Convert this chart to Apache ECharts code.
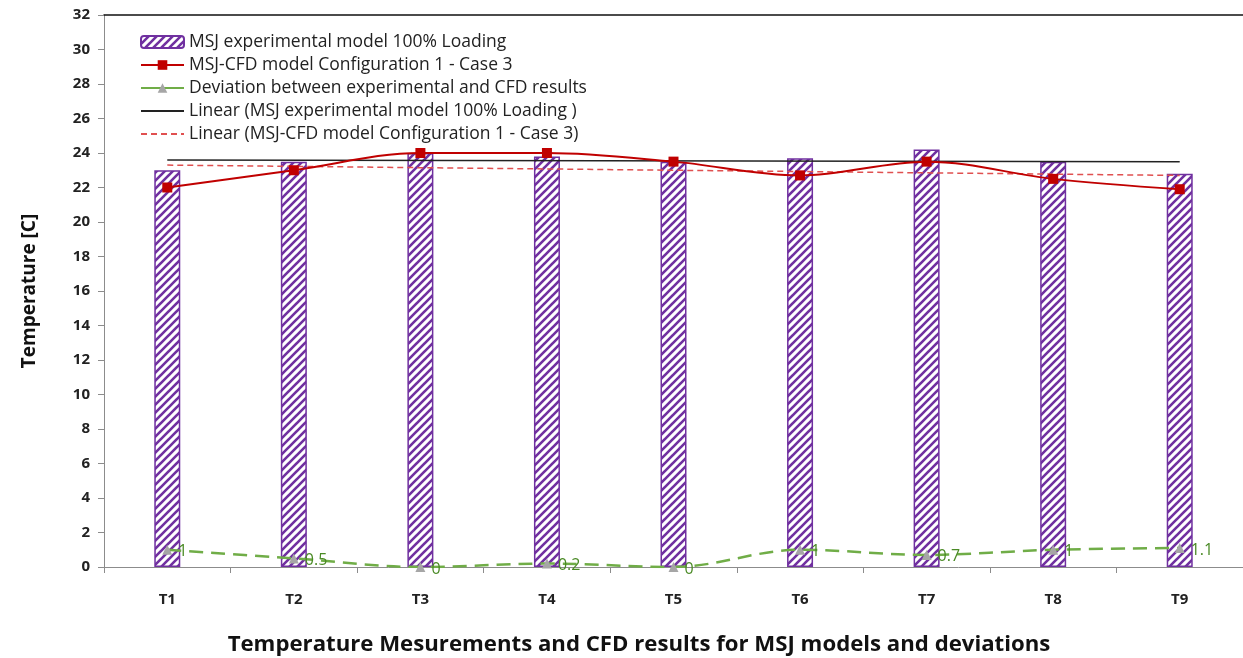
<!DOCTYPE html>
<html>
<head>
<meta charset="utf-8">
<script src="https://cdn.jsdelivr.net/npm/echarts@6/dist/echarts.min.js"></script>
<style>
  html, body { margin: 0; padding: 0; background: #ffffff; }
  #chart { width: 1243px; height: 658px; }
</style>
</head>
<body>
<div id="chart"></div>
<script>
// Measurement points
const categories = ['T1', 'T2', 'T3', 'T4', 'T5', 'T6', 'T7', 'T8', 'T9'];
// Experimental temperatures (bars)
const experimental = [23.0, 23.5, 24.0, 23.8, 23.5, 23.7, 24.2, 23.5, 22.8];
// CFD model temperatures (red line)
const cfd = [22.0, 23.0, 24.0, 24.0, 23.5, 22.7, 23.5, 22.5, 21.9];
// Deviation between experiment and CFD (green line, labelled)
const deviation = [1, 0.5, 0, 0.2, 0, 1, 0.7, 1, 1.1];
// Linear trend end points (first and last category)
const trendExperimental = [23.6, 23.5];
const trendCfd = [23.3, 22.7];
// Y axis tick range
const yMin = 0, yMax = 32, yStep = 2;

const names = [
  'MSJ experimental model 100% Loading',
  'MSJ-CFD model Configuration 1 - Case 3',
  'Deviation between experimental and CFD results',
  'Linear (MSJ experimental model 100% Loading )',
  'Linear (MSJ-CFD model Configuration 1 - Case 3)'
];

const FONT = '"Open Sans", Lato, sans-serif';
const PURPLE = '#7030a0';

// Diagonal hatch tile for the bars
function hatchTile() {
  const c = document.createElement('canvas');
  const s = 8;
  c.width = s; c.height = s;
  const g = c.getContext('2d');
  g.fillStyle = '#ffffff';
  g.fillRect(0, 0, s, s);
  g.strokeStyle = PURPLE;
  g.lineWidth = 2.6;
  g.lineCap = 'square';
  [-s, 0, s].forEach(dx => {
    g.beginPath();
    g.moveTo(dx, s);
    g.lineTo(dx + s, 0);
    g.stroke();
  });
  return c;
}
const hatch = { image: hatchTile(), repeat: 'repeat' };

const last = categories.length - 1;
const chart = echarts.init(document.getElementById('chart'), null, { renderer: 'canvas' });

chart.setOption({
  backgroundColor: '#ffffff',
  animation: false,
  grid: { left: 104, top: 15, width: 1142, height: 552, containLabel: false },
  legend: {
    orient: 'vertical',
    left: 140,
    top: 33,
    padding: 0,
    itemWidth: 43,
    itemHeight: 12,
    itemGap: 5,
    textStyle: { fontFamily: FONT, fontSize: 17.5, color: '#222', padding: [0, 0, 0, 0] },
    data: [
      { name: names[0] },
      { name: names[1] },
      { name: names[2], lineStyle: { type: 'solid' } },
      { name: names[3], itemStyle: { opacity: 0 } },
      { name: names[4], itemStyle: { opacity: 0 } }
    ]
  },
  xAxis: [{
    type: 'category',
    data: categories,
    boundaryGap: true,
    axisLine: { lineStyle: { color: '#8c8c8c', width: 1 } },
    axisTick: { show: true, alignWithLabel: false, length: 6, lineStyle: { color: '#8c8c8c' } },
    axisLabel: { fontFamily: FONT, fontWeight: 'bold', fontSize: 15, color: '#222', margin: 25 }
  }, {
    type: 'category',
    data: categories,
    position: 'top',
    axisLine: { lineStyle: { color: '#111', width: 1.5 } },
    axisTick: { show: false },
    axisLabel: { show: false }
  }],
  yAxis: {
    type: 'value',
    min: yMin, max: yMax, interval: yStep,
    name: 'Temperature [C]',
    nameLocation: 'middle',
    nameGap: 65,
    nameRotate: 90,
    nameTextStyle: { fontFamily: FONT, fontWeight: 'bold', fontSize: 19, color: '#111' },
    axisLine: { show: true, lineStyle: { color: '#8c8c8c', width: 1 } },
    axisTick: { show: true, length: 6, lineStyle: { color: '#8c8c8c' } },
    splitLine: { show: false },
    axisLabel: { fontFamily: FONT, fontWeight: 'bold', fontSize: 15, color: '#222', margin: 14 }
  },
  graphic: [{
    type: 'text',
    x: 639,
    y: 645,
    style: {
      text: 'Temperature Mesurements and CFD results for MSJ models and deviations',
      font: 'bold 22.2px ' + FONT,
      fill: '#111',
      align: 'center',
      verticalAlign: 'middle'
    }
  }],
  series: [
    {
      name: names[0],
      type: 'bar',
      data: experimental,
      barWidth: 26,
      itemStyle: { color: hatch, borderColor: PURPLE, borderWidth: 1.5 },
      z: 2
    },
    {
      name: names[1],
      type: 'line',
      data: cfd,
      smooth: 0.35,
      symbol: 'rect',
      symbolSize: 10,
      lineStyle: { color: '#c00000', width: 2 },
      itemStyle: { color: '#c00000' },
      z: 5
    },
    {
      name: names[2],
      type: 'line',
      data: deviation,
      smooth: 0.35,
      symbol: 'triangle',
      symbolSize: 10,
      lineStyle: { color: '#70ad47', width: 2.5, type: [14, 8] },
      itemStyle: { color: '#a6a6a6' },
      label: {
        show: true,
        position: 'right',
        distance: 6,
        offset: [0, 2],
        fontFamily: FONT,
        fontSize: 16,
        color: '#4a8a25'
      },
      z: 6
    },
    {
      name: names[3],
      type: 'line',
      data: [[0, trendExperimental[0]], [last, trendExperimental[1]]],
      symbol: 'none',
      lineStyle: { color: '#222', width: 1.5 },
      itemStyle: { color: '#222' },
      z: 3
    },
    {
      name: names[4],
      type: 'line',
      data: [[0, trendCfd[0]], [last, trendCfd[1]]],
      symbol: 'none',
      lineStyle: { color: '#e05050', width: 1.5, type: [6, 4] },
      itemStyle: { color: '#e05050' },
      z: 3
    }
  ]
});
</script>
</body>
</html>
